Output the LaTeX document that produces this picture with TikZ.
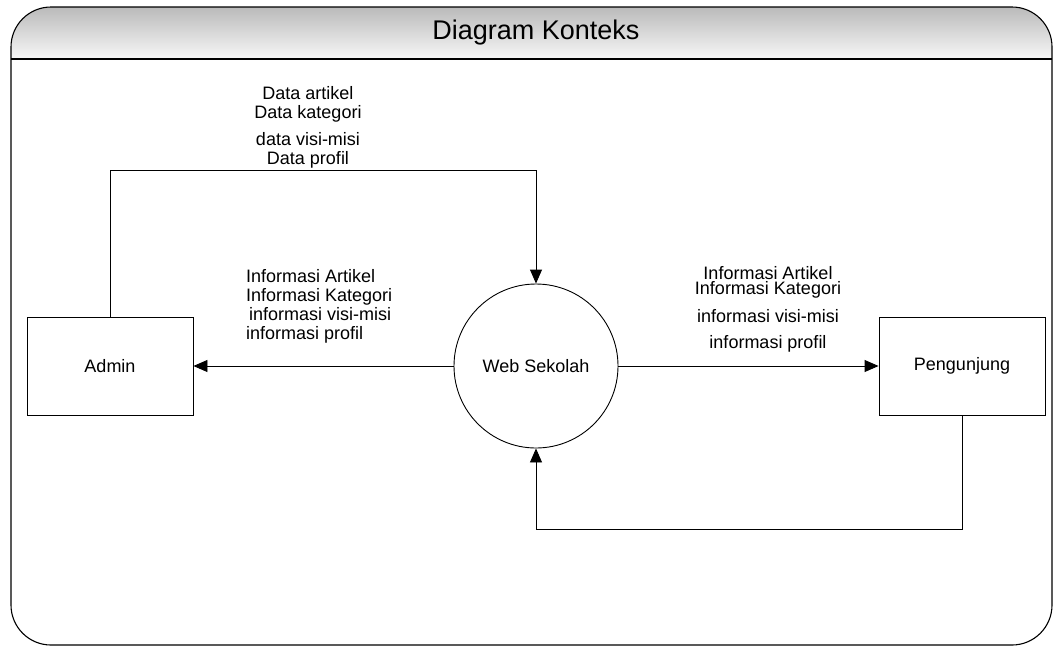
\documentclass[tikz,border=0pt]{standalone}
\usepackage{fontspec}
\setmainfont{Liberation Sans}
\usetikzlibrary{arrows.meta}
\usetikzlibrary{positioning}

\tikzset{
  entitas/.style={draw,line width=0.9pt,rectangle,minimum width=166pt,minimum height=98pt,font=\fontsize{18}{19}\selectfont},
  proses/.style={draw,line width=0.9pt,circle,minimum size=164pt,inner sep=0pt,font=\fontsize{18}{19}\selectfont},
  alur/.style={draw,line width=0.9pt,-{Triangle[length=14pt,width=12pt]}},
  ket/.style={inner sep=0pt,font=\fontsize{18}{19}\selectfont}
}

\begin{document}
\begin{tikzpicture}[x=1pt,y=-1pt]
\useasboundingbox (0,0) rectangle (1054,646);
% bingkai
\shade[top color=black!27,bottom color=black!3] (11,59) [rounded corners=40pt] -- (11,7) -- (1052,7) [sharp corners] -- (1052,59) -- cycle;
\draw[line width=1.1pt,rounded corners=40pt] (11,7) rectangle (1052,645);
\draw[line width=1.1pt] (11,59) -- (1052,59);
\node[font=\fontsize{27}{30}\selectfont] (judul) at (536,33) {Diagram Konteks};

% entitas dan proses
\node[entitas] (admin) at (110,366) {Admin};
\node[proses] (web) at (536,366) {Web Sekolah};
\node[entitas] (peng) at (962,366) {Pengunjung};

% alur data
\draw[alur] (admin.north) -- ++(0,-146) -| (web.north);
\draw[alur] (web.west) -- (admin.east);
\draw[alur] (web.east) -- (peng.west);
\draw[alur] (peng.south) -- ++(0,114) -| (web.south);

\node[ket,anchor=north,align=center] (kirim) at (308,86) {Data artikel\\Data kategori\\[8pt]data visi-misi\\Data profil};
\node[ket,anchor=north west,align=left] (infoadmin) at (246,269) {Informasi Artikel\\Informasi Kategori\\\,informasi visi-misi\\informasi profil};
\node[ket,anchor=north,align=center] (infopeng) at (768,266) {Informasi Artikel\\[-4pt]Informasi Kategori\\[9pt]informasi visi-misi\\[7pt]informasi profil};
\end{tikzpicture}
\end{document}
